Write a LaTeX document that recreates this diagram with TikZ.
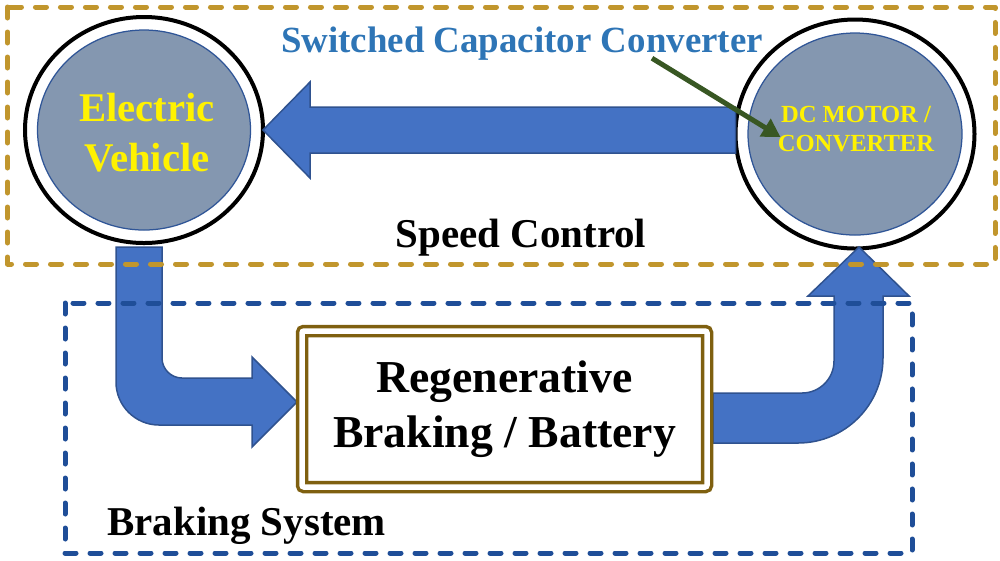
\documentclass[tikz,border=0pt]{standalone}
\usepackage{fontspec}
\setmainfont{Liberation Serif}
\usetikzlibrary{arrows.meta,positioning,calc,shapes.geometric}
\definecolor{goldline}{RGB}{193,150,45}
\definecolor{blueline}{RGB}{31,78,152}
\definecolor{arrowfill}{RGB}{68,114,196}
\definecolor{arrowline}{RGB}{47,82,143}
\definecolor{discfill}{RGB}{132,151,176}
\definecolor{discline}{RGB}{47,85,151}
\definecolor{titleblue}{RGB}{46,117,182}
\definecolor{pointergreen}{RGB}{56,87,35}
\definecolor{boxbrown}{RGB}{127,96,16}

\begin{document}
\begin{tikzpicture}[x=0.2mm,y=-0.2mm,
  ring/.style={ellipse,draw=black,line width=0.8mm,fill=white,inner sep=0pt,outer sep=0pt},
  disc/.style={ellipse,draw=discline,line width=0.25mm,fill=discfill,inner sep=0pt,outer sep=0pt},
  blockarrow/.style={fill=arrowfill,draw=arrowline,line width=0.3mm,line join=miter},
  pointer/.style={draw=pointergreen,line width=1mm,-{Triangle[length=3.6mm,width=4mm]}},
  dashbox/.style={line width=1mm,dash pattern=on 2.2mm off 2.8mm,line cap=round,line join=round},
  lbl/.style={font=\bfseries\fontsize{23.3}{28}\selectfont,inner sep=0pt},
  ]
  \useasboundingbox (0,0) rectangle (1000,560);

  % 左右の円
  \node[ring,minimum width=47.6mm,minimum height=45.2mm] (ev) at (144,130) {};
  \node[disc,minimum width=42.6mm,minimum height=40mm] (evdisc) at (ev.center) {};
  \node[lbl,text=yellow,align=center,font=\bfseries\fontsize{23.2}{28.5}\selectfont] (evlabel) at (147,133) {Electric\\Vehicle};
  \node[ring,minimum width=47.8mm,minimum height=45.8mm] (dcm) at (855,134) {};
  \node[disc,minimum width=42.8mm,minimum height=40.4mm] (dcmdisc) at (dcm.center) {};
  \node[lbl,text=yellow,align=center,font=\bfseries\fontsize{14}{16.5}\selectfont] (dcmlabel) at (856,129) {DC MOTOR /\\CONVERTER};

  % 太い矢印
  \filldraw[blockarrow] (ev.east) -- ++(47,-48) -- ++(0,25) -- ($(ev.east -| dcm.west)+(0,-23)$) -- ++(0,46) -- ($(ev.east)+(47,23)$) -- ++(0,25) -- cycle;
  \filldraw[blockarrow] (116,247) -- (116,382) .. controls (116,405.7) and (135.3,425) .. (159,425) -- (252,425) -- (252,447) -- (297,402) -- (252,357) -- (252,378) -- (182,378) .. controls (171,378) and (162,369) .. (162,358) -- (162,247) -- cycle;
  \filldraw[blockarrow] (713,393) -- (802,393) .. controls (819.7,393) and (834,378.7) .. (834,361) -- (834,296) -- (808,296) -- (859,247) -- (909,296) -- (883,296) -- (883,358) .. controls (883,405) and (845,443) .. (798,443) -- (713,443) -- cycle;

  \node[draw=boxbrown,double=white,double distance=1.1mm,line width=0.7mm,rounded corners=0.4mm,inner sep=0pt,outer sep=0pt,
    minimum width=81mm,minimum height=31.2mm,align=center,font=\bfseries\fontsize{26}{31.3}\selectfont] (reg) at (504.5,409) {Regenerative\\Braking / Battery};

  \node[lbl,anchor=base,text=titleblue,font=\bfseries\fontsize{21}{25}\selectfont] (title) at (522,52) {Switched Capacitor Converter};
  \draw[pointer] ($(title.south)+(130,-2)$) -- ($(dcmlabel.west)+(3,8)$);

  % 点線の枠
  \draw[dashbox,goldline] (7.5,7) rectangle (995,264);
  \draw[dashbox,blueline] (65,303) rectangle (912,553);
  \node[lbl,anchor=base] (speed) at (521,247) {Speed Control};
  \node[lbl,anchor=base west] (brksys) at (107,535) {Braking System};
\end{tikzpicture}
\end{document}
